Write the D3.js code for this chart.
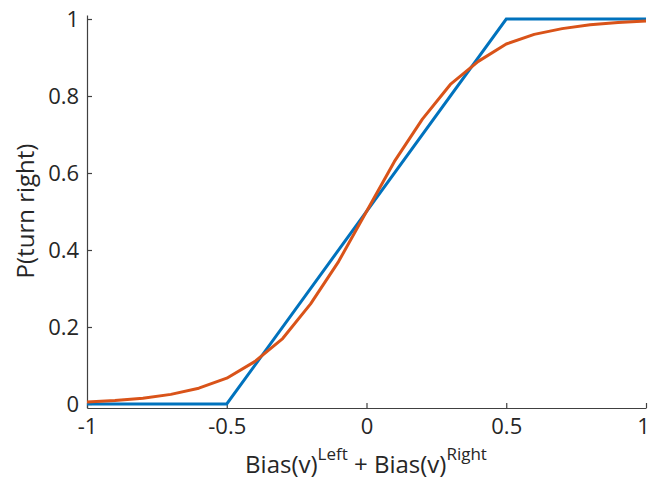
<!DOCTYPE html>
<html><head><meta charset="utf-8">
<script src="https://cdn.jsdelivr.net/npm/d3@7"></script>
<style>html,body{margin:0;padding:0;background:#fff;}svg{display:block;font-family:"Open Sans","Noto Sans",sans-serif;}</style>
</head><body>
<svg id="c" width="651" height="481"></svg>
<script>
const xTicks = [-1, -0.5, 0, 0.5, 1];
const yTicks = [0, 0.2, 0.4, 0.6, 0.8, 1];
const linearX = [-1, -0.5, 0.5, 1];
const linearY = [0, 0, 1, 1];
const logisticX = [-1, -0.9, -0.8, -0.7, -0.6, -0.5, -0.4, -0.3, -0.2, -0.1, 0, 0.1, 0.2, 0.3, 0.4, 0.5, 0.6, 0.7, 0.8, 0.9, 1];
const logisticY = [0.005, 0.009, 0.015, 0.025, 0.041, 0.067, 0.11, 0.17, 0.26, 0.37, 0.50, 0.63, 0.74, 0.83, 0.89, 0.935, 0.96, 0.975, 0.985, 0.991, 0.995];
const xLabelParts = [["Bias(v)", false], ["Left", true], [" + Bias(v)", false], ["Right", true]];

const svg = d3.select("#c");
const x = d3.scaleLinear().domain([-1, 1]).range([87, 646]);
const y = d3.scaleLinear().domain([-0.0104, 1.0104]).range([408, 15]);
const axisColor = "#404040";
const fmt = d => String(d);

const xAxis = svg.append("g").attr("transform", "translate(0,408)")
  .call(d3.axisBottom(x).tickValues(xTicks).tickFormat(fmt).tickSizeInner(-5).tickSizeOuter(0).tickPadding(10));
const yAxis = svg.append("g").attr("transform", "translate(87,0)")
  .call(d3.axisLeft(y).tickValues(yTicks).tickFormat(fmt).tickSizeInner(-5).tickSizeOuter(0).tickPadding(10));
[xAxis, yAxis].forEach(a => {
  a.select(".domain").attr("stroke", axisColor).attr("stroke-width", 1.2);
  a.selectAll(".tick line").attr("stroke", axisColor).attr("stroke-width", 1.2);
  a.selectAll(".tick text").attr("fill", "#262626").attr("font-size", 22)
    .attr("font-family", "'Open Sans','Noto Sans',sans-serif");
});
xAxis.selectAll(".tick text").attr("dx", (d, i) => i === xTicks.length - 1 ? -3 : 0);
yAxis.selectAll(".tick text").attr("dx", "0.1em");

const line = d3.line().x(d => x(d[0])).y(d => y(d[1]));
const linData = linearX.map((v, i) => [v, linearY[i]]);
const logData = logisticX.map((v, i) => [v, logisticY[i]]);

svg.append("path").datum(linData).attr("d", line).attr("fill", "none")
  .attr("stroke", "#0072BD").attr("stroke-width", 3).attr("stroke-linejoin", "miter");
svg.append("path").datum(logData).attr("d", line).attr("fill", "none")
  .attr("stroke", "#D95319").attr("stroke-width", 3).attr("stroke-linejoin", "round");

// x label as separate pieces (superscripts raised)
const xg = svg.append("g");
const pieces = xLabelParts.map(([t, sup]) => xg.append("text")
  .attr("fill", "#262626").attr("font-size", sup ? 17 : 24)
  .attr("y", sup ? 460 : 473).attr("xml:space", "preserve").style("white-space", "pre").text(t));
const widths = pieces.map(p => p.node().getComputedTextLength());
let cx = 366 - d3.sum(widths) / 2;
pieces.forEach((p, i) => { p.attr("x", cx); cx += widths[i]; });

// y label
svg.append("text").attr("transform", "translate(34,211) rotate(-90)").attr("text-anchor", "middle")
  .attr("fill", "#262626").attr("font-size", 24).text("P(turn right)");
</script>
</body></html>
